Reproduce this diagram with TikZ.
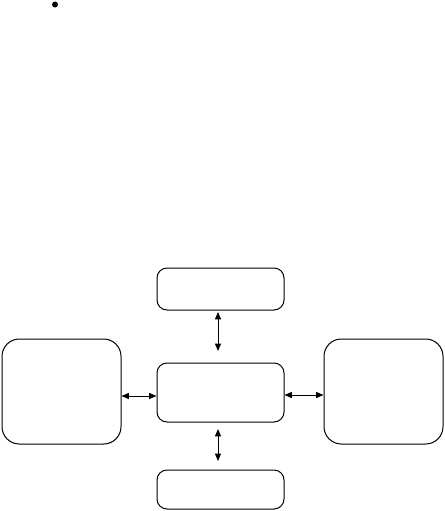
\documentclass[tikz,border=0pt]{standalone}
\usetikzlibrary{arrows.meta,calc}
\begin{document}
\begin{tikzpicture}[x=0.75pt,y=-0.75pt,
  boxnode/.style={draw=black,line width=0.75pt,rounded corners=7.5pt,inner sep=0pt,fill=white},
  bignode/.style={draw=black,line width=0.75pt,rounded corners=13pt,inner sep=0pt,fill=white},
  link/.style={line width=0.75pt,{Triangle[length=5.5pt,width=4.5pt]}-{Triangle[length=5.5pt,width=4.5pt]}},
  dotnode/.style={circle,fill=black,inner sep=0pt,minimum size=4.5pt}]
\useasboundingbox (0,0) rectangle (445,511);
\node[dotnode] (dot) at (55,4.5) {};
\node[boxnode,minimum width=95.25pt,minimum height=31.5pt] (top) at (220.5,289) {};
\node[boxnode,minimum width=95.25pt,minimum height=44.25pt] (mid) at (220.5,392.5) {};
\node[boxnode,minimum width=95.25pt,minimum height=29.25pt] (bot) at (220.5,489.5) {};
\node[bignode,minimum width=89.25pt,minimum height=78.75pt] (left) at (61.5,391.5) {};
\node[bignode,minimum width=89.25pt,minimum height=78.75pt] (right) at (383.5,391.5) {};
\coordinate (t1) at (218,312);
\coordinate (t2) at (218,351);
\coordinate (b1) at (218,429);
\coordinate (b2) at (218,461);
\draw[link] (t1) -- (t2);
\draw[link] (b1) -- (b2);
\draw[link] (left.east |- 0,396) -- (mid.west |- 0,396);
\draw[link] (mid.east |- 0,395) -- (right.west |- 0,395);
\end{tikzpicture}
\end{document}
